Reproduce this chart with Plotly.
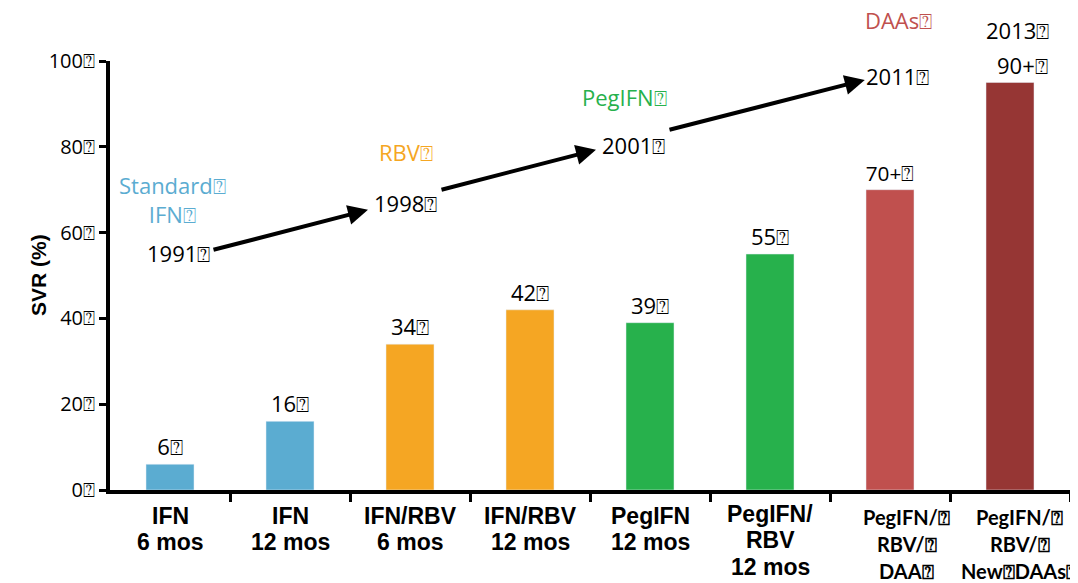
import plotly.graph_objects as go

B = "\u2370"  # box-like glyph seen after each label in the reference

categories = ["IFN 6 mos", "IFN 12 mos", "IFN/RBV 6 mos", "IFN/RBV 12 mos",
              "PegIFN 12 mos", "PegIFN/RBV 12 mos", "PegIFN/RBV/DAA", "PegIFN/RBV/New DAAs"]
svr = [6, 16, 34, 42, 39, 55, 70, 95]
value_labels = ["6", "16", "34", "42", "39", "55", "70+", "90+"]
bar_colors = ["#5BACD1", "#5BACD1", "#F5A623", "#F5A623", "#27B14C", "#27B14C", "#C0504E", "#963634"]
x_label_lines = [["IFN", "6 mos"], ["IFN", "12 mos"], ["IFN/RBV", "6 mos"], ["IFN/RBV", "12 mos"],
                 ["PegIFN", "12 mos"], ["PegIFN/", "RBV", "12 mos"],
                 ["PegIFN/" + B, "RBV/" + B, "DAA" + B], ["PegIFN/" + B, "RBV/" + B, "New" + B + "DAAs" + B]]
y_ticks = [0, 20, 40, 60, 80, 100]

# era annotations: (text, color, x index, y value)
eras = [("Standard" + B + "<br>IFN" + B, "#5BACD1", 0.02, 67.6),
        ("RBV" + B, "#F5A623", 1.97, 78.8),
        ("PegIFN" + B, "#27B14C", 3.79, 91.6),
        ("DAAs" + B, "#C0504E", 6.07, 109.6)]
years = [("1991", 0.07, 55.2), ("1998", 1.96, 66.9), ("2001", 3.86, 80.4),
         ("2011", 6.06, 96.5), ("2013", 7.06, 107.2)]
# arrows: (x_start, y_start, x_end, y_end) in data units
arrows = [(0.35, 55.9, 1.65, 65.3), (2.25, 69.9, 3.55, 79.3), (4.15, 83.9, 5.79, 95.6)]

TXT = "Open Sans"
xs = list(range(len(categories)))
fig = go.Figure()
bar_text = [v + B if i < 7 else "" for i, v in enumerate(value_labels)]
fig.add_trace(go.Bar(x=xs, y=svr, marker_color=bar_colors, width=0.4,
                     text=bar_text, textposition="outside", cliponaxis=False,
                     textfont=dict(family=TXT, size=22, color="black")))

ann = []
for text, color, x, y in eras:
    ann.append(dict(x=x, y=y / 100, xref="x", yref="paper", xanchor="center", yanchor="middle",
                    text=text, showarrow=False, font=dict(family=TXT, size=22, color=color)))
for text, x, y in years:
    ann.append(dict(x=x, y=y / 100, xref="x", yref="paper", xanchor="center", yanchor="middle",
                    text=text + B, showarrow=False, font=dict(family=TXT, size=22, color="black")))
ann.append(dict(x=7.1, y=0.99, xref="x", yref="paper", xanchor="center", yanchor="middle",
                text=value_labels[7] + B, showarrow=False,
                font=dict(family=TXT, size=22, color="black")))
for x0, y0, x1, y1 in arrows:
    ann.append(dict(x=x1, y=y1, ax=x0, ay=y0, xref="x", yref="y", axref="x", ayref="y",
                    text="", showarrow=True, arrowhead=2, arrowsize=1, arrowwidth=4,
                    arrowcolor="black"))
offsets2 = [26, 52]
offsets3 = [24, 50, 77]
offsets3b = [27, 54, 81]
label_x = [0, 1, 2, 3, 4, 5, 6.14, 7.08]
for i, lines in enumerate(x_label_lines):
    if i >= 6:
        fam, size, offs = "Lato", 20, offsets3b
    else:
        fam, size = "Liberation Sans", 23
        offs = offsets3 if len(lines) == 3 else offsets2
    for line, off in zip(lines, offs):
        ann.append(dict(x=label_x[i], y=0, xref="x", yref="paper", yanchor="middle", yshift=-off,
                        text="<b>" + line + "</b>", showarrow=False,
                        font=dict(family=fam, size=size, color="black")))
ann.append(dict(x=-0.0885, y=0.5, xref="paper", yref="paper", text="<b>SVR (%)</b>",
                textangle=-90, showarrow=False,
                font=dict(family="Liberation Sans", size=21, color="black")))

fig.update_layout(
    width=1078, height=583, margin=dict(l=102, r=16, t=53, b=101),
    plot_bgcolor="white", paper_bgcolor="white", showlegend=False,
    annotations=ann,
    xaxis=dict(range=[-0.5, 7.5], showticklabels=False, showgrid=False, zeroline=False,
               showline=True, linewidth=4, linecolor="black",
               tickmode="array", tickvals=[i - 0.5 for i in range(1, 9)],
               ticks="outside", ticklen=8, tickwidth=3, tickcolor="black"),
    yaxis=dict(range=[0, 100], showgrid=False, zeroline=False,
               showline=True, linewidth=4, linecolor="black",
               tickmode="array", tickvals=y_ticks, ticktext=[str(v) + B for v in y_ticks],
               ticks="outside", ticklen=7, tickwidth=3, tickcolor="black",
               tickfont=dict(family=TXT, size=20, color="black")),
)
fig.write_html("out.html")
